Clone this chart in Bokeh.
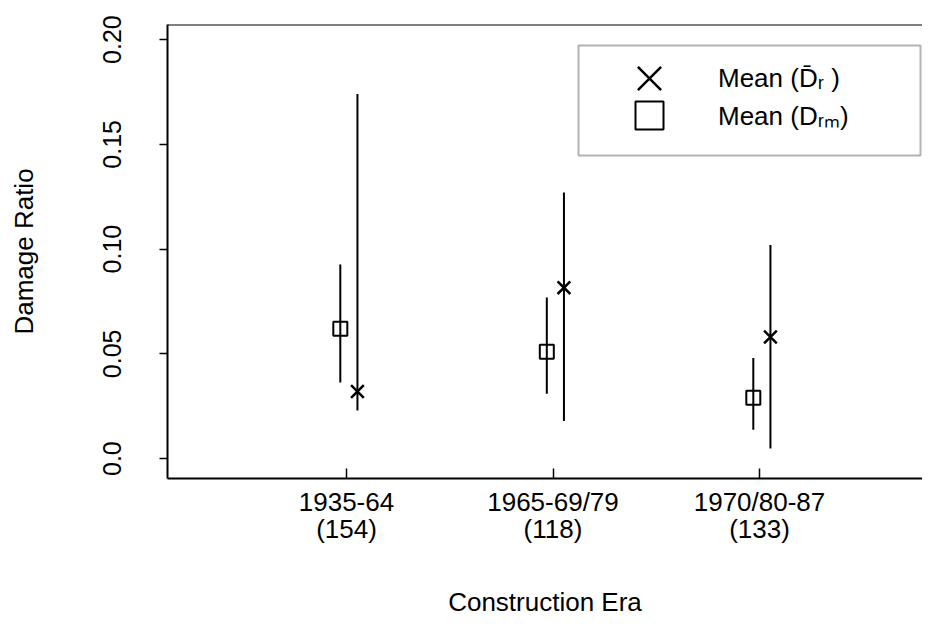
from bokeh.plotting import figure
from bokeh.models import (Range1d, FixedTicker, Span, Legend, LegendItem, BoxAnnotation)
from bokeh.embed import file_html
from bokeh.resources import INLINE

# ---- data ----
eras = [1, 2, 3]
era_labels = ["1935-64\n(154)", "1965-69/79\n(118)", "1970/80-87\n(133)"]
dr_mean = [0.032, 0.0816, 0.058]
dr_low = [0.0229, 0.018, 0.0048]
dr_high = [0.174, 0.127, 0.102]
drm_mean = [0.062, 0.051, 0.029]
drm_low = [0.0363, 0.031, 0.0138]
drm_high = [0.0926, 0.0769, 0.048]
y_ticks = [0.0, 0.05, 0.10, 0.15, 0.20]
y_tick_labels = ["0.0", "0.05", "0.10", "0.15", "0.20"]

FONT = "Liberation Sans"
W, H = 922, 623
BL, BT, BB, BR = 167, 24, 145, 0
X0 = 1 - (346 - 167) / 206.5
X1 = 3 + (922 - 759) / 206.5
Y0, Y1 = -0.0095, 0.2072

p = figure(width=W, height=H, output_backend="svg", toolbar_location=None,
           x_range=Range1d(X0, X1), y_range=Range1d(Y0, Y1),
           min_border_left=BL, min_border_top=BT, min_border_bottom=BB, min_border_right=BR)
p.outline_line_color = None
p.xgrid.visible = False
p.ygrid.visible = False

dx_sq, dx_x = -0.03, 0.053
xs_sq = [e + dx_sq for e in eras]
xs_x = [e + dx_x for e in eras]

p.segment(x0=xs_sq, y0=drm_low, x1=xs_sq, y1=drm_high, line_color="black", line_width=2)
p.segment(x0=xs_x, y0=dr_low, x1=xs_x, y1=dr_high, line_color="black", line_width=2)
r_sq = p.scatter(x=xs_sq, y=drm_mean, marker="square", size=14, fill_color=None,
                 line_color="black", line_width=2)
r_x = p.scatter(x=xs_x, y=dr_mean, marker="x", size=18, line_color="black", line_width=2.5)

# axes
xa = p.xaxis[0]
xa.ticker = FixedTicker(ticks=eras)
xa.major_label_overrides = {e: l for e, l in zip(eras, era_labels)}
xa.major_tick_in = 10
xa.major_tick_out = 0
xa.minor_tick_line_color = None
xa.axis_line_width = 2
xa.major_tick_line_width = 1.5
xa.major_label_text_font = FONT
xa.major_label_text_font_size = "26px"
xa.major_label_text_line_height = 0.92
xa.major_label_text_color = "black"
xa.major_label_standoff = 8
xa.axis_label = "Construction Era"
xa.axis_label_text_font = FONT
xa.axis_label_text_font_size = "26px"
xa.axis_label_text_font_style = "normal"
xa.axis_label_text_color = "black"
xa.axis_label_standoff = 40

ya = p.yaxis[0]
ya.ticker = FixedTicker(ticks=y_ticks)
ya.major_label_overrides = {t: l for t, l in zip(y_ticks, y_tick_labels)}
ya.major_label_orientation = "vertical"
ya.major_tick_in = 0
ya.major_tick_out = 8
ya.minor_tick_line_color = None
ya.axis_line_width = 2
ya.major_tick_line_width = 1.5
ya.major_label_text_font = FONT
ya.major_label_text_font_size = "25px"
ya.major_label_text_color = "black"
ya.major_label_standoff = 38
ya.axis_label = "Damage Ratio"
ya.axis_label_text_font = FONT
ya.axis_label_text_font_size = "26px"
ya.axis_label_text_font_style = "normal"
ya.axis_label_text_color = "black"
ya.axis_label_standoff = 62

p.add_layout(Span(location=Y1, dimension="width", line_color="black", line_width=2))

# legend (frame placed from pixel layout constants)
fw = W - BL - BR
fh = H - BT - BB
FB = H - BB  # frame bottom in canvas px
def dx(cx):
    return X0 + (cx - BL) * (X1 - X0) / fw
def dy(cy):
    return Y1 - (cy - BT) * (Y1 - Y0) / fh

p.add_layout(BoxAnnotation(left=dx(578), right=dx(920), top=dy(45), bottom=dy(155),
                           fill_color=None, line_color="black", line_width=2, level="overlay"))

def mk_legend(label, rend, cx, cy, g, text_x):
    return Legend(items=[LegendItem(label=label, renderers=[rend])],
                  location=(cx - g // 2 - BL, FB - (cy + g // 2)),
                  glyph_width=g, glyph_height=g, label_height=g, padding=0, spacing=0,
                  margin=0, label_standoff=text_x - (cx - g // 2) - g, border_line_color=None,
                  background_fill_alpha=0, label_text_font=FONT,
                  label_text_font_size="26px", label_text_color="black")

p.add_layout(mk_legend("Mean (D\u0304\u1d63 )", r_x, 649, 78, 82, 718))
p.add_layout(mk_legend("Mean (D\u1d63\u2098)", r_sq, 649, 115, 70, 718))

open("out.html", "w").write(file_html(p, INLINE))
